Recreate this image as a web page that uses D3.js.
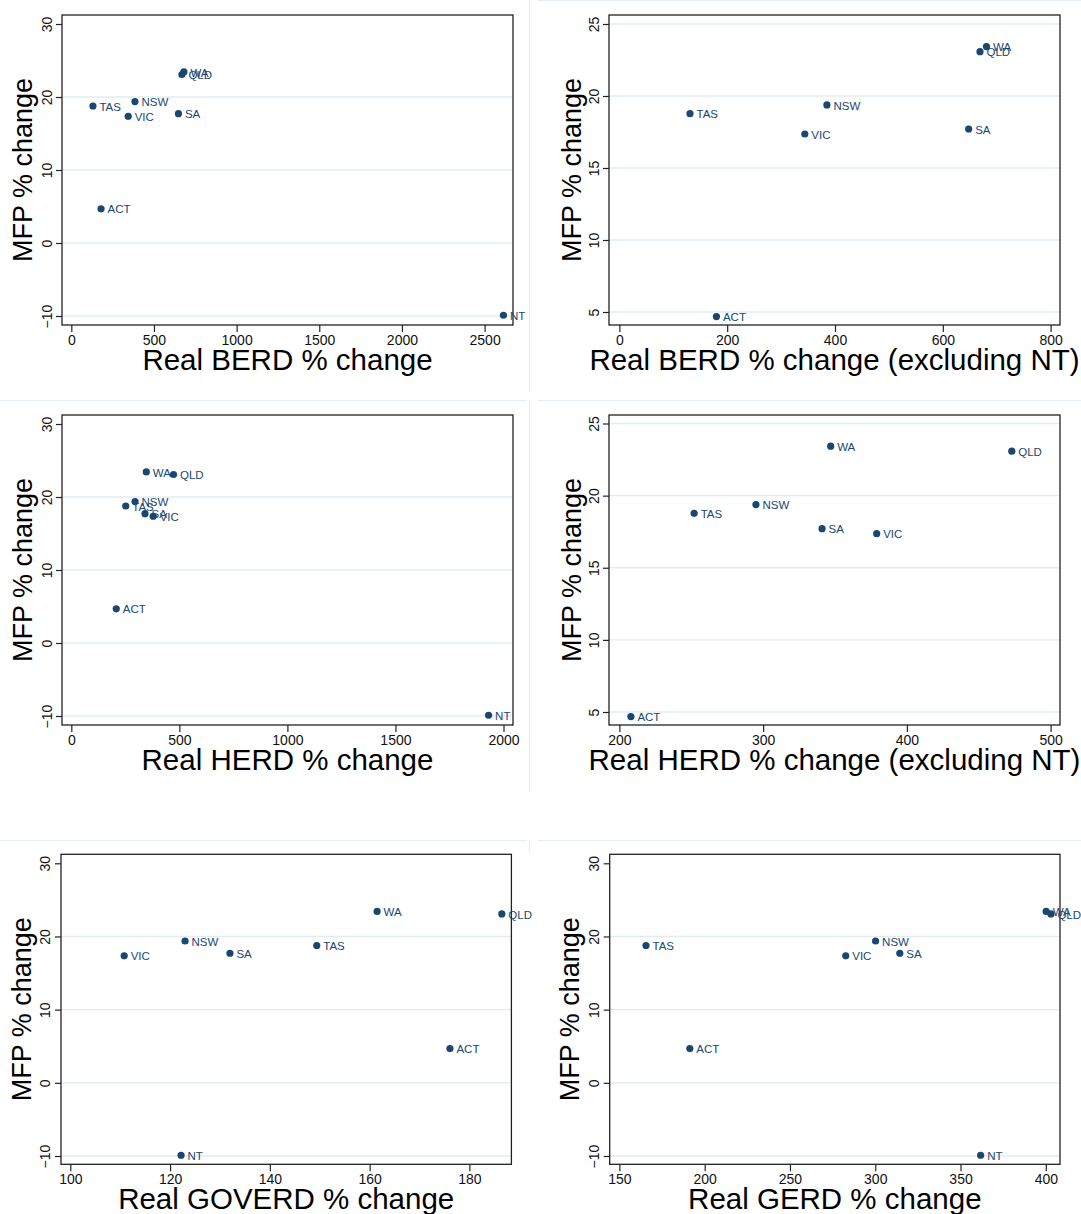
<!DOCTYPE html>
<html><head><meta charset="utf-8">
<script src="https://cdn.jsdelivr.net/npm/d3@7"></script>
<style>
html,body{margin:0;padding:0;background:#fff;}
svg{display:block;font-family:"Liberation Sans",Arial,Helvetica,sans-serif;}
</style></head>
<body>
<svg id="chart" width="1081" height="1214"></svg>
<script>
// ---- data ----
const states = ["NSW","VIC","QLD","SA","WA","TAS","NT","ACT"];
const mfp    = [19.38, 17.36, 23.08, 17.71, 23.43, 18.77, -9.9, 4.68];
const berd   = [385, 344, 669, 648, 681, 131, 2614, 180];
const herd   = [295, 379, 473, 341, 347, 252, 1931, 208];
const goverd = [123.0, 110.8, 186.5, 132.0, 161.5, 149.4, 122.2, 176.1];
const gerd   = [300.2, 282.7, 403.0, 314.4, 400.2, 165.6, 361.8, 191.3];

const yTicksWide   = [-10, 0, 10, 20, 30];
const yTicksNarrow = [5, 10, 15, 20, 25];
const xTicksBerd     = [0, 500, 1000, 1500, 2000, 2500];
const xTicksBerdExNT = [0, 200, 400, 600, 800];
const xTicksHerd     = [0, 500, 1000, 1500, 2000];
const xTicksHerdExNT = [200, 300, 400, 500];
const xTicksGoverd   = [100, 120, 140, 160, 180];
const xTicksGerd     = [150, 200, 250, 300, 350, 400];

const xTitles = ["Real BERD % change", "Real BERD % change (excluding NT)",
                 "Real HERD % change", "Real HERD % change (excluding NT)",
                 "Real GOVERD % change", "Real GERD % change"];
const yTitle = "MFP % change";

// ---- panel definitions (data) ----
const panels = [
  {x: berd,   excludeNT: false, xTicks: xTicksBerd,     yTicks: yTicksWide,   yGrid: [-10,0,10,20],   title: xTitles[0]},
  {x: berd,   excludeNT: true,  xTicks: xTicksBerdExNT, yTicks: yTicksNarrow, yGrid: [5,10,15,20,25], title: xTitles[1]},
  {x: herd,   excludeNT: false, xTicks: xTicksHerd,     yTicks: yTicksWide,   yGrid: [-10,0,10,20],   title: xTitles[2]},
  {x: herd,   excludeNT: true,  xTicks: xTicksHerdExNT, yTicks: yTicksNarrow, yGrid: [5,10,15,20,25], title: xTitles[3]},
  {x: goverd, excludeNT: false, xTicks: xTicksGoverd,   yTicks: yTicksWide,   yGrid: [-10,0,10,20],   title: xTitles[4]},
  {x: gerd,   excludeNT: false, xTicks: xTicksGerd,     yTicks: yTicksWide,   yGrid: [-10,0,10,20],   title: xTitles[5]}
];

// ---- layout (pixel geometry per panel) ----
const layout = [
  {fx:[62,513],    fy:[15,325],       xr:[71.3,484.6],   yr:[316,24],     ytx:46.5,  ttx:22},
  {fx:[609,1060],  fy:[15,325],       xr:[619.4,1050.6], yr:[312,24],     ytx:593.5, ttx:571},
  {fx:[62,513],    fy:[415,725],      xr:[71.3,503.5],   yr:[716,424],    ytx:46.5,  ttx:22},
  {fx:[609,1060],  fy:[415,725],      xr:[619.4,1050.6], yr:[712,423.5],  ytx:593.5, ttx:571},
  {fx:[61,511.4],  fy:[854.3,1164.3], xr:[70.3,469.4],   yr:[1156,863.3], ytx:45,    ttx:21},
  {fx:[609.7,1060],fy:[854.3,1164.3], xr:[619.4,1045.8], yr:[1156,863.3], ytx:593.5, ttx:569.5}
];

const navy = "#1a476f";
const grid = "#e3edf0";
const frameCol = "#222";
const svg = d3.select("#chart");

// faint graph-region separators
const sep = svg.append("g").attr("stroke", "#e6eef1").attr("stroke-width", 1);
[[529.5,0,529.5,392],[529.5,400,529.5,792],[529.5,840,529.5,852],
 [0,400.5,527,400.5],[538,400.5,1081,400.5],
 [0,840.5,527,840.5],[538,840.5,1081,840.5],[538,0.5,1081,0.5]].forEach(l=>{
  sep.append("line").attr("x1",l[0]).attr("y1",l[1]).attr("x2",l[2]).attr("y2",l[3]);
});

panels.forEach((p, i) => {
  const L = layout[i];
  const xs = d3.scaleLinear().domain([p.xTicks[0], p.xTicks[p.xTicks.length-1]]).range(L.xr);
  const ys = d3.scaleLinear().domain([p.yTicks[0], p.yTicks[p.yTicks.length-1]]).range(L.yr);
  const g = svg.append("g");

  // gridlines
  g.append("g").selectAll("line").data(p.yGrid).join("line")
    .attr("x1", L.fx[0]).attr("x2", L.fx[1])
    .attr("y1", d => ys(d)).attr("y2", d => ys(d))
    .attr("stroke", grid).attr("stroke-width", 1.3);

  // x axis
  const xAxis = d3.axisBottom(xs).tickValues(p.xTicks).tickSize(7).tickPadding(3).tickFormat(d3.format("d"));
  const xg = g.append("g").attr("transform", `translate(0,${L.fy[1]})`).call(xAxis);
  xg.select(".domain").remove();
  xg.selectAll(".tick line").attr("stroke", frameCol).attr("stroke-width", 1.2);
  xg.selectAll(".tick text").attr("font-size", 14).attr("fill", "#111")
    .attr("font-family", "Liberation Sans, Arial, sans-serif");

  // y axis
  const yAxis = d3.axisLeft(ys).tickValues(p.yTicks).tickSize(6).tickFormat(d3.format("d"));
  const yg = g.append("g").attr("transform", `translate(${L.fx[0]},0)`).call(yAxis);
  yg.select(".domain").remove();
  yg.selectAll(".tick line").attr("stroke", frameCol).attr("stroke-width", 1.2);
  yg.selectAll(".tick text").remove();
  yg.selectAll(".tick").append("text")
    .attr("transform", `translate(${L.ytx - L.fx[0]},0) rotate(-90)`)
    .attr("text-anchor", "middle").attr("dy", "0.36em")
    .attr("font-size", 14).attr("fill", "#111")
    .attr("font-family", "Liberation Sans, Arial, sans-serif")
    .text(d => d3.format("d")(d));

  // frame
  g.append("rect").attr("x", L.fx[0]).attr("y", L.fy[0])
    .attr("width", L.fx[1]-L.fx[0]).attr("height", L.fy[1]-L.fy[0])
    .attr("fill", "none").attr("stroke", frameCol).attr("stroke-width", 1.3);

  // points
  const pts = states.map((s, k) => ({s, x: p.x[k], y: mfp[k]}))
    .filter(d => !(p.excludeNT && d.s === "NT"));
  g.append("g").selectAll("circle").data(pts).join("circle")
    .attr("cx", d => xs(d.x)).attr("cy", d => ys(d.y)).attr("r", 3.6)
    .attr("fill", navy);
  g.append("g").selectAll("text").data(pts).join("text")
    .attr("x", d => xs(d.x) + 6.5).attr("y", d => ys(d.y)).attr("dy", "0.4em")
    .attr("font-size", 11.5).attr("fill", navy)
    .text(d => d.s);

  // axis titles
  g.append("text").attr("x", (L.fx[0]+L.fx[1])/2).attr("y", L.fy[1] + 45)
    .attr("text-anchor", "middle").attr("font-size", 29.5).attr("fill", "#000")
    .text(p.title);
  g.append("text")
    .attr("transform", `translate(${L.ttx},${(L.fy[0]+L.fy[1])/2}) rotate(-90)`)
    .attr("text-anchor", "middle").attr("dy", "0.36em")
    .attr("font-size", 27).attr("fill", "#000")
    .text(yTitle);
});
</script>
</body></html>
